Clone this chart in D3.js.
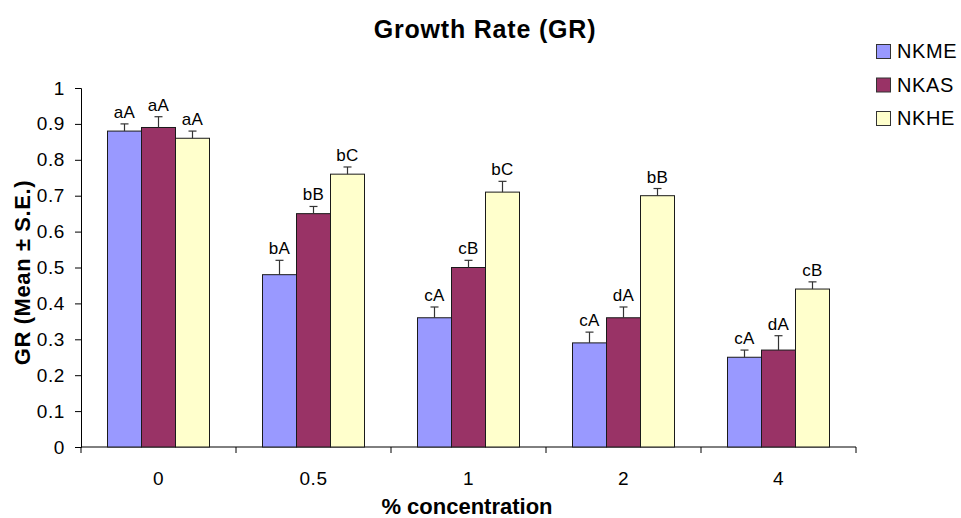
<!DOCTYPE html>
<html>
<head>
<meta charset="utf-8">
<script src="https://cdn.jsdelivr.net/npm/d3@7"></script>
<style>
  html, body { margin: 0; padding: 0; background: #fff; }
  svg { display: block; font-family: "Liberation Sans", Arial, sans-serif; }
</style>
</head>
<body>
<svg id="chart" width="961" height="518"></svg>
<script>
// Growth rate per concentration level, three extracts
const categories = ["0", "0.5", "1", "2", "4"];
const seriesNames = ["NKME", "NKAS", "NKHE"];
const seriesColors = ["#9999FF", "#993366", "#FFFFCC"];
const nkme = [0.88, 0.48, 0.36, 0.29, 0.25];
const nkas = [0.89, 0.65, 0.50, 0.36, 0.27];
const nkhe = [0.86, 0.76, 0.71, 0.70, 0.44];
const nkmeErr = [0.02, 0.04, 0.03, 0.03, 0.02];
const nkasErr = [0.03, 0.02, 0.02, 0.03, 0.04];
const nkheErr = [0.02, 0.02, 0.03, 0.02, 0.02];
const nkmeLetters = ["aA", "bA", "cA", "cA", "cA"];
const nkasLetters = ["aA", "bB", "cB", "dA", "dA"];
const nkheLetters = ["aA", "bC", "bC", "bB", "cB"];
const yTicks = [0, 0.1, 0.2, 0.3, 0.4, 0.5, 0.6, 0.7, 0.8, 0.9, 1];

const values = [nkme, nkas, nkhe];
const errors = [nkmeErr, nkasErr, nkheErr];
const letters = [nkmeLetters, nkasLetters, nkheLetters];

const svg = d3.select("#chart");
const plot = { left: 81, right: 856, top: 88, bottom: 447 };

const x = d3.scaleBand().domain(categories).range([plot.left, plot.right]).paddingInner(0).paddingOuter(0);
const groupWidth = 102;
const xs = d3.scaleBand().domain(seriesNames).range([0, groupWidth]);
const y = d3.scaleLinear().domain([0, 1]).range([plot.bottom, plot.top]);

// Title
svg.append("text")
  .attr("x", 485).attr("y", 38)
  .attr("text-anchor", "middle")
  .attr("font-size", 25).attr("font-weight", "bold")
  .attr("letter-spacing", 0.8)
  .text("Growth Rate (GR)");

// Y axis
const yAxis = svg.append("g")
  .attr("transform", `translate(${plot.left},0)`)
  .call(d3.axisLeft(y).tickValues(yTicks).tickFormat(d3.format("")).tickSize(6).tickPadding(10));
yAxis.select(".domain").attr("stroke", "#000");
yAxis.selectAll(".tick line").attr("stroke", "#000");
yAxis.selectAll(".tick text").attr("font-size", 19).attr("fill", "#000")
  .attr("letter-spacing", 0.6)
  .attr("font-family", "Liberation Sans, Arial, sans-serif");

// X axis: ticks fall between the categories
const xAxisG = svg.append("g").attr("transform", `translate(0,${plot.bottom})`);
xAxisG.append("line")
  .attr("x1", plot.left).attr("x2", plot.right)
  .attr("stroke", "#000");
const boundaries = categories.map(c => x(c)).concat([plot.right]);
xAxisG.selectAll("line.tick").data(boundaries).join("line")
  .attr("class", "tick")
  .attr("x1", d => d).attr("x2", d => d)
  .attr("y1", 0).attr("y2", 6)
  .attr("stroke", "#000");
xAxisG.selectAll("text").data(categories).join("text")
  .attr("x", d => x(d) + x.bandwidth() / 2)
  .attr("y", 38)
  .attr("text-anchor", "middle")
  .attr("font-size", 19)
  .attr("letter-spacing", 0.6)
  .text(d => d);

// Axis titles
svg.append("text")
  .attr("x", 467).attr("y", 514)
  .attr("text-anchor", "middle")
  .attr("font-size", 22).attr("font-weight", "bold")
  .text("% concentration");
svg.append("text")
  .attr("transform", `translate(30,${(plot.top + plot.bottom) / 2 + 5}) rotate(-90)`)
  .attr("text-anchor", "middle")
  .attr("font-size", 22).attr("font-weight", "bold")
  .attr("letter-spacing", 0.6)
  .text("GR (Mean ± S.E.)");

// Bars, error bars and letters
seriesNames.forEach((name, si) => {
  const g = svg.append("g");
  const data = categories.map((c, i) => ({
    c, v: values[si][i], e: errors[si][i], t: letters[si][i]
  }));
  const bx = d => x(d.c) + (x.bandwidth() - groupWidth) / 2 + xs(name);
  g.selectAll("rect").data(data).join("rect")
    .attr("x", bx)
    .attr("y", d => y(d.v))
    .attr("width", xs.bandwidth())
    .attr("height", d => y(0) - y(d.v))
    .attr("fill", seriesColors[si])
    .attr("stroke", "#1a1a1a").attr("stroke-width", 1);
  const cx = d => bx(d) + xs.bandwidth() / 2;
  g.selectAll("line.err").data(data).join("line")
    .attr("class", "err")
    .attr("x1", cx).attr("x2", cx)
    .attr("y1", d => y(d.v)).attr("y2", d => y(d.v + d.e))
    .attr("stroke", "#333").attr("stroke-width", 1.2);
  g.selectAll("line.cap").data(data).join("line")
    .attr("class", "cap")
    .attr("x1", d => cx(d) - 4).attr("x2", d => cx(d) + 4)
    .attr("y1", d => y(d.v + d.e)).attr("y2", d => y(d.v + d.e))
    .attr("stroke", "#333").attr("stroke-width", 1.2);
  g.selectAll("text").data(data).join("text")
    .attr("x", cx)
    .attr("y", d => y(d.v + d.e) - 6)
    .attr("text-anchor", "middle")
    .attr("font-size", 17)
    .attr("letter-spacing", 0.3)
    .text(d => d.t);
});

// Legend
const legend = svg.append("g");
seriesNames.forEach((name, i) => {
  const base = 58 + i * 33.5;
  legend.append("rect")
    .attr("x", 876.5).attr("y", base - 13.5)
    .attr("width", 14).attr("height", 14)
    .attr("fill", seriesColors[i])
    .attr("stroke", "#333").attr("stroke-width", 1);
  legend.append("text")
    .attr("x", 897).attr("y", base)
    .attr("font-size", 20)
    .attr("letter-spacing", 0.6)
    .text(name);
});
</script>
</body>
</html>
